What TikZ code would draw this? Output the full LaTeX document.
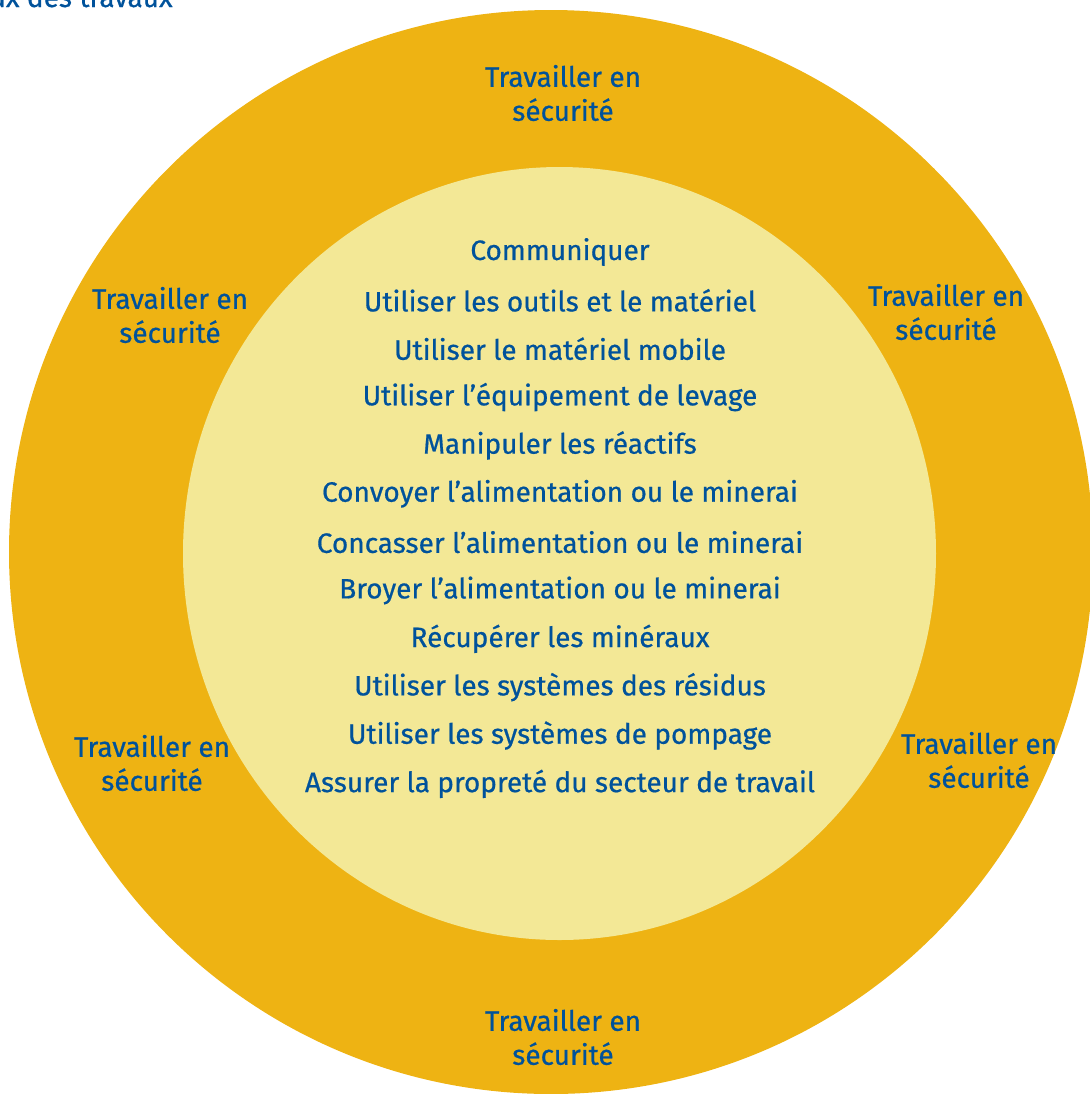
\documentclass[tikz,border=0pt]{standalone}
\usepackage{fontspec}
\setmainfont{Fira Sans}[FakeBold=0.6]
\definecolor{ringyellow}{HTML}{EEB313}
\definecolor{coreyellow}{HTML}{F3E896}
\definecolor{textblue}{HTML}{00529B}
\begin{document}
\begin{tikzpicture}[x=0.5pt, y=-0.5pt,
    tasktext/.style={text=textblue, font=\fontsize{14}{17}\selectfont},
    ringtext/.style={text=textblue, font=\fontsize{14}{17}\selectfont, align=center}]
  \useasboundingbox (0,0) rectangle (1090,1094);
  \fill[ringyellow] (551,552) circle [radius=271pt];
  \fill[coreyellow] (559.5,553.5) circle [x radius=188.25pt, y radius=193.25pt];
  \node[ringtext, anchor=base east, inner sep=0pt] (title) at (173,7) {ux des travaux};
  \node[ringtext] (safetop)    at (563,93)   {Travailler en\\sécurité};
  \node[ringtext] (safeupleft) at (170,315)  {Travailler en\\sécurité};
  \node[ringtext] (safeupright) at (946,312) {Travailler en\\sécurité};
  \node[ringtext] (safelowleft) at (152,763) {Travailler en\\sécurité};
  \node[ringtext] (safelowright) at (979,760) {Travailler en\\sécurité};
  \node[ringtext] (safebottom) at (563,1037) {Travailler en\\sécurité};
  \foreach \txt [count=\i] in {Communiquer,
      Utiliser les outils et le matériel,
      Utiliser le matériel mobile,
      Utiliser l’équipement de levage,
      Manipuler les réactifs,
      Convoyer l’alimentation ou le minerai,
      Concasser l’alimentation ou le minerai,
      Broyer l’alimentation ou le minerai,
      Récupérer les minéraux,
      Utiliser les systèmes des résidus,
      Utiliser les systèmes de pompage,
      Assurer la propreté du secteur de travail}
    \node[tasktext] (task\i) at (560,{252+48.35*(\i-1)}) {\txt};
\end{tikzpicture}
\end{document}
